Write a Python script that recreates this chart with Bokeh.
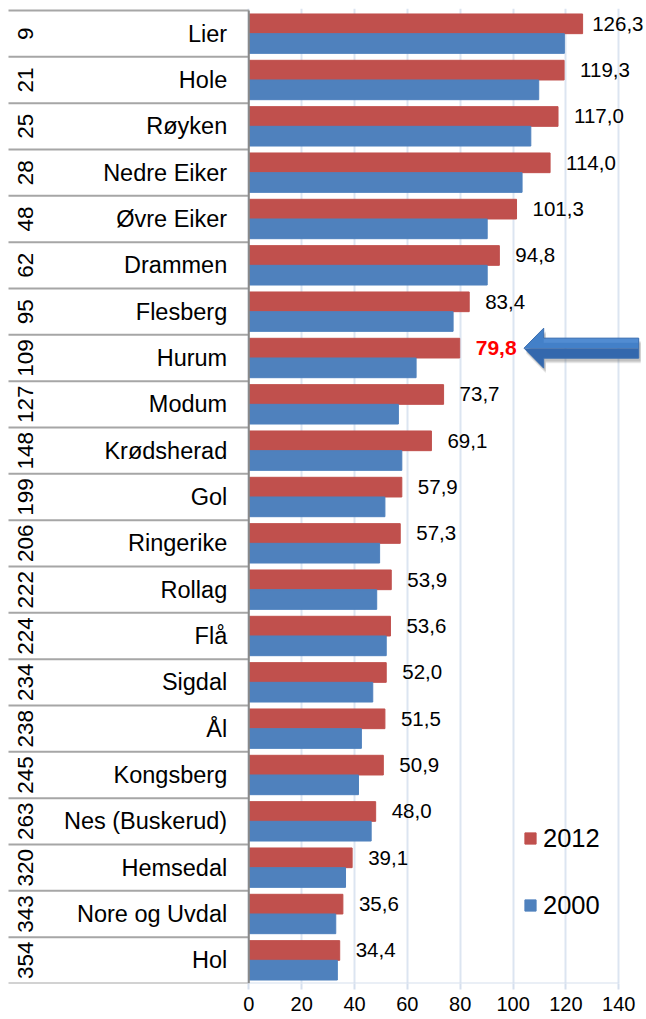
import numpy as np
from bokeh.plotting import figure
from bokeh.models import ColumnDataSource, FixedTicker, Range1d, Legend, LegendItem
from bokeh.core.properties import value
from bokeh.embed import file_html
from bokeh.resources import INLINE

# ---------------- data ----------------
ranks = [9, 21, 25, 28, 48, 62, 95, 109, 127, 148, 199, 206, 222, 224, 234, 238,
         245, 263, 320, 343, 354]
municipalities = ["Lier", "Hole", "Røyken", "Nedre Eiker", "Øvre Eiker", "Drammen",
                  "Flesberg", "Hurum", "Modum", "Krødsherad", "Gol", "Ringerike",
                  "Rollag", "Flå", "Sigdal", "Ål", "Kongsberg", "Nes (Buskerud)",
                  "Hemsedal", "Nore og Uvdal", "Hol"]
values_2012 = [126.3, 119.3, 117.0, 114.0, 101.3, 94.8, 83.4, 79.8, 73.7, 69.1, 57.9,
               57.3, 53.9, 53.6, 52.0, 51.5, 50.9, 48.0, 39.1, 35.6, 34.4]
values_2000 = [119.4, 109.7, 106.7, 103.4, 90.2, 90.2, 77.3, 63.3, 56.6, 57.9, 51.5,
               49.5, 48.4, 52.0, 46.9, 42.6, 41.5, 46.3, 36.6, 32.9, 33.5]
series_names = ["2012", "2000"]
x_ticks = [0, 20, 40, 60, 80, 100, 120, 140]
highlight = "Hurum"

# ---------------- geometry / style ----------------
W, H = 646, 1019
PX = 2.6429          # pixels per x unit
ROW = 46.333         # pixels per row
ORIGIN = 248.3       # pixel position of x = 0
TOP, BOTTOM = 8, 36
RED, BLUE = "#C0504D", "#4F81BD"
FONT = "Liberation Sans"

n = len(municipalities)
ypos = np.arange(n)[::-1].astype(float)
frame_h = H - TOP - BOTTOM
y_max = (n - 0.5) + 2 / ROW
y_min = y_max - frame_h / ROW
x_min = -ORIGIN / PX
x_max = (W - ORIGIN) / PX

p = figure(width=W, height=H, x_range=Range1d(x_min, x_max), y_range=Range1d(y_min, y_max),
           output_backend="svg", toolbar_location=None, y_axis_location=None,
           min_border_left=0, min_border_right=0, min_border_top=TOP,
           min_border_bottom=BOTTOM, outline_line_color=None,
           background_fill_color="white", border_fill_color="white")

p.ygrid.visible = False
p.xaxis.ticker = FixedTicker(ticks=x_ticks)
p.xgrid.grid_line_color = "#DCE5F1"
p.xgrid.grid_line_width = 2
p.xaxis.axis_line_color = None
p.xaxis.major_tick_line_color = "#D5DFEE"
p.xaxis.major_tick_line_width = 2
p.xaxis.major_tick_in = 0
p.xaxis.major_tick_out = 6
p.xaxis.minor_tick_line_color = None
p.xaxis.major_label_text_font = FONT
p.xaxis.major_label_text_font_size = "20px"
p.xaxis.major_label_text_color = "#000000"
p.xaxis.major_label_standoff = 7

# axis baseline for the value range
p.segment(x0=[x_ticks[0]], x1=[x_ticks[-1]], y0=[-0.5], y1=[-0.5],
          line_color="#D5DFEE", line_width=2)

# bars
bh = 0.425
src = ColumnDataSource(dict(y12=ypos + bh / 2, y00=ypos - bh / 2,
                            v12=values_2012, v00=values_2000))
r12 = p.hbar(y="y12", right="v12", left=0, height=bh, source=src,
             fill_color=RED, line_color=RED)
r00 = p.hbar(y="y00", right="v00", left=0, height=bh, source=src,
             fill_color=BLUE, line_color=BLUE)

# table on the left
table_left = (8 - ORIGIN) / PX
bounds = np.arange(n + 1) - 0.5
p.segment(x0=table_left, x1=0, y0=bounds, y1=bounds, line_color="#A6A6A6", line_width=2)
p.segment(x0=[0], x1=[0], y0=[-0.5], y1=[n - 0.5], line_color="#8A8A8A", line_width=2)

p.text(x=(25 - ORIGIN) / PX, y=ypos, text=[str(r) for r in ranks], angle=np.pi / 2,
       text_align="center", text_baseline="middle", text_font=value(FONT),
       text_font_size="22.5px", text_color="#000000")
p.text(x=(226.7 - ORIGIN) / PX, y=ypos, text=municipalities, text_align="right",
       text_baseline="middle", text_font=value(FONT), text_font_size="23.5px",
       text_color="#000000")

# value labels
lab_off = 16 / PX
lab_x = np.minimum(np.array(values_2012) + lab_off, (591.7 - ORIGIN) / PX)
lab_txt = [f"{v:.1f}".replace(".", ",") for v in values_2012]
is_hl = np.array([m == highlight for m in municipalities])
p.text(x=lab_x[~is_hl], y=(ypos + bh / 2)[~is_hl],
       text=[t for t, h in zip(lab_txt, is_hl) if not h], text_align="left",
       text_baseline="middle", text_font=value(FONT), text_font_size="20.5px",
       text_color="#000000")
p.text(x=lab_x[is_hl], y=(ypos + bh / 2)[is_hl],
       text=[t for t, h in zip(lab_txt, is_hl) if h], text_align="left",
       text_baseline="middle", text_font=value(FONT), text_font_size="21px",
       text_font_style="bold", text_color="#FF0000")

# arrow pointing at the highlighted label
hi = int(np.argmax(is_hl))
yc = ypos[hi] + bh / 2
tip = values_2012[hi] + lab_off + 48.3 / PX
head = 19.7 / PX
length = 114.7 / PX
hh, sh = 20 / ROW, 10 / ROW
ax = [tip, tip + head, tip + head, tip + length, tip + length, tip + head, tip + head]
ay = [yc, yc + hh, yc + sh, yc + sh, yc - sh, yc - sh, yc - hh]
# soft shadow
for k, a in ((5, 0.12), (4, 0.14), (3, 0.16)):
    p.patch(x=[v + 2 / PX for v in ax], y=[v - k / ROW for v in ay],
            fill_color="#5A5A5A", fill_alpha=a, line_color=None)
# upper (lighter) and lower (darker) halves
p.patch(x=[tip, tip + head, tip + head, tip + length, tip + length],
        y=[yc, yc + hh, yc + sh, yc + sh, yc],
        fill_color="#4380C8", line_color=None)
p.patch(x=[tip, tip + length, tip + length, tip + head, tip + head],
        y=[yc, yc, yc - sh, yc - sh, yc - hh],
        fill_color="#3468AD", line_color=None)
p.patch(x=[tip + head, tip + head, tip + length, tip + length],
        y=[yc + sh, yc + sh * 0.55, yc + sh * 0.55, yc + sh],
        fill_color="#5C95D8", fill_alpha=0.6, line_color=None)
p.patch(x=ax, y=ay, fill_alpha=0, line_color="#3A6EB0", line_width=1)

# legend
legend = Legend(items=[LegendItem(label=series_names[0], renderers=[r12]),
                       LegendItem(label=series_names[1], renderers=[r00])],
                location=(523, 63), orientation="vertical",
                glyph_width=14, glyph_height=14, label_standoff=6,
                label_height=30, spacing=37, padding=0, margin=0,
                label_text_font=FONT, label_text_font_size="25.5px",
                label_text_color="#000000", border_line_color=None,
                background_fill_alpha=0)
p.add_layout(legend, "center")

open("out.html", "w").write(file_html(p, INLINE))
